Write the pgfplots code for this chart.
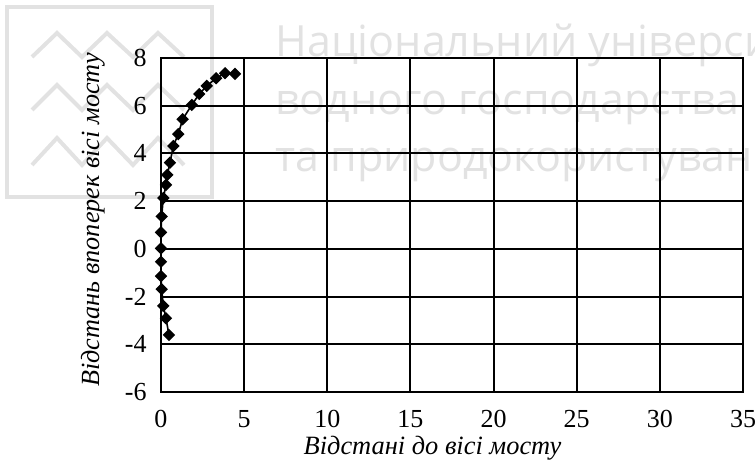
\documentclass[border=0pt]{standalone}
\usepackage{fontspec}
\setmainfont{Liberation Serif}
\newfontfamily\wmfont{Open Sans}
\usepackage{pgfplots}
\pgfplotsset{compat=1.18}

\definecolor{wmgray}{RGB}{226,226,226}

\begin{document}
\begin{tikzpicture}
% page frame (in pt, axis lower-left corner at the origin)
\useasboundingbox (-80.5pt,-36pt) rectangle (297pt,196pt);

% faint institutional mark behind the plot
\begin{scope}
\clip (-80.5pt,-36pt) rectangle (297pt,196pt);
\draw[wmgray, line width=2pt] (-77pt,97.5pt) rectangle (25.5pt,192.5pt);
\foreach \yl/\yh in {167.5/179.5, 141/153.5, 113.5/127} {
  \draw[wmgray, line width=2pt, line join=miter]
    (-64.5pt,\yl pt) -- (-52pt,\yh pt) -- (-39.5pt,\yl pt) -- (-27pt,\yh pt)
    -- (-14pt,\yl pt) -- (-1.5pt,\yh pt) -- (11.5pt,\yl pt);
}
\begin{scope}[every node/.style={anchor=base west, inner sep=0pt, text=wmgray,
    font=\wmfont\fontsize{21.5}{24}\selectfont}]
\node at (57pt,167.5pt) {Національний університет};
\node at (57pt,138.5pt) {водного господарства};
\node at (57pt,110pt) {та природокористування};
\end{scope}
\end{scope}

\begin{axis}[
  at={(0pt,0pt)}, anchor=south west,
  scale only axis,
  width=291pt, height=167pt,
  xmin=0, xmax=35, ymin=-6, ymax=8,
  xtick={0,5,...,35},
  ytick={-6,-4,...,8},
  grid=major,
  major grid style={black, line width=1pt},
  axis line style={black, line width=1pt},
  major tick length=0pt,
  tick style={draw=none},
  /pgf/number format/assume math mode=true,
  ticklabel style={font=\fontsize{13}{15}\selectfont},
  xticklabel style={inner sep=0pt, anchor=north, yshift=-9pt},
  yticklabel style={inner sep=0pt, anchor=east, xshift=-7pt},
  xlabel={\itshape Відстані до вісі мосту},
  ylabel={\itshape Відстань впоперек вісі мосту},
  every axis x label/.style={at={(axis description cs:0.4665,-0.1886)}, anchor=base,
    inner sep=0pt, font=\fontsize{13.2}{15}\selectfont},
  every axis y label/.style={at={(axis description cs:-0.1065,0.515)}, anchor=base,
    inner sep=0pt, rotate=90, font=\fontsize{13.1}{15}\selectfont},
]
\addplot[black, line width=0.8pt, mark=square*, mark size=1.8pt,
  mark options={rotate=45, solid, fill=black}] coordinates {
  (0.48,-3.61) (0.30,-2.91) (0.14,-2.39) (0.04,-1.69) (0.00,-1.14)
  (0.00,-0.54) (0.00,0.02) (0.00,0.69) (0.04,1.36) (0.14,2.13)
  (0.30,2.68) (0.38,3.10) (0.54,3.61) (0.74,4.31) (1.04,4.81)
  (1.30,5.43) (1.85,6.03) (2.30,6.49) (2.75,6.83) (3.31,7.15)
  (3.85,7.36) (4.45,7.33)
};
\end{axis}
\end{tikzpicture}
\end{document}
